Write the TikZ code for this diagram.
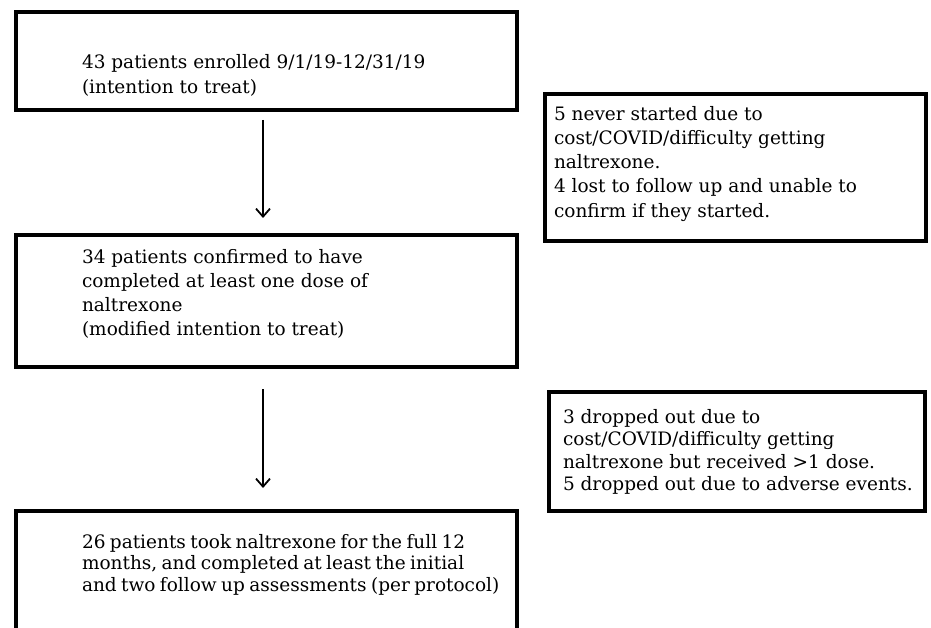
\documentclass[tikz,border=0pt]{standalone}
\usepackage{fontspec}
\setmainfont{DejaVu Serif}
\newfontfamily\tightfont{DejaVu Serif}[WordSpace=0.75]
\usetikzlibrary{arrows.meta}
\begin{document}
\begin{tikzpicture}[x=1pt,y=-1pt,
  box/.style={draw=black,line width=4pt,rectangle,inner sep=0pt,outer sep=0pt,anchor=north west},
  txt/.style={align=left,inner sep=0pt,outer sep=0pt,anchor=north west,font=\fontsize{18.5}{25}\selectfont},
  arr/.style={line width=1.8pt,-{Straight Barb[length=8pt,width=14pt]}}]
\useasboundingbox (0,0) rectangle (931,628);
\clip (0,0) rectangle (931,628);
\node[box,minimum width=501pt,minimum height=98pt] (b1) at (16,12) {};
\node[box,minimum width=381pt,minimum height=147pt] (b2) at (545,94) {};
\node[box,minimum width=501pt,minimum height=132pt] (b3) at (16,235) {};
\node[box,minimum width=376pt,minimum height=119pt] (b4) at (549,392) {};
\node[box,minimum width=501pt,minimum height=149pt] (b5) at (16,511) {};
\node[txt] (t1) at (82,54) {43 patients enrolled 9/1/19-12/31/19\\(intention to treat)};
\node[txt,font=\fontsize{18.5}{24.3}\selectfont] (t2) at (554,106) {5 never started due to\\cost/COVID/difficulty getting\\naltrexone.\\4 lost to follow up and unable to\\confirm if they started.};
\node[txt,font=\fontsize{18.5}{24}\selectfont] (t3) at (82,249) {34 patients confirmed to have\\completed at least one dose of\\naltrexone\\(modified intention to treat)};
\node[txt,font=\fontsize{18.5}{22.5}\selectfont] (t4) at (563,409) {3 dropped out due to\\cost/COVID/difficulty getting\\naltrexone but received >1 dose.\\5 dropped out due to adverse events.};
\node[txt,font=\tightfont\fontsize{18.5}{21.5}\selectfont] (t5) at (82,534) {26 patients took naltrexone for the full 12\\months, and completed at least the initial\\and two follow up assessments (per protocol)};
\draw[arr] ([xshift=-3.5pt,yshift=-10pt]b1.south) -- ([xshift=-3.5pt,yshift=17pt]b3.north);
\draw[arr] ([xshift=-3.5pt,yshift=-22pt]b3.south) -- ([xshift=-3.5pt,yshift=23pt]b5.north);
\end{tikzpicture}
\end{document}
